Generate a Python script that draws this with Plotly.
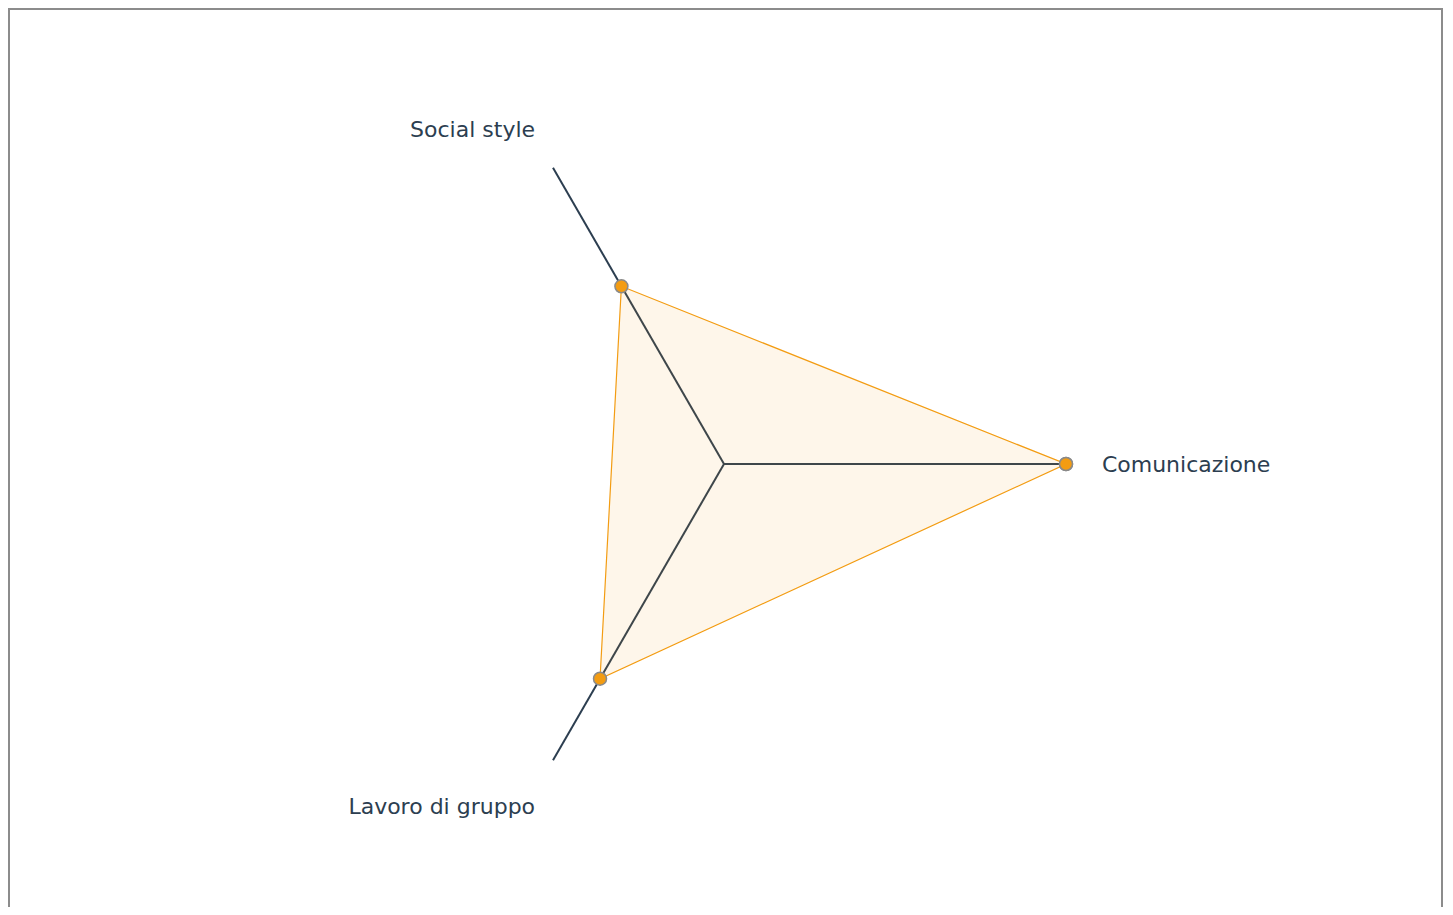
import plotly.graph_objects as go

# dati del radar
categorie = ["Comunicazione", "Social style", "Lavoro di gruppo"]
valori = [100, 60, 72.5]
scala_max = 100

# chiudo il poligono ripetendo il primo punto
theta = categorie + categorie[:1]
r = valori + valori[:1]

W, H = 1437, 899  # la pagina ha 8px di margine

trace = go.Scatterpolar(
    r=r,
    theta=theta,
    mode="lines+markers",
    fill="toself",
    fillcolor="rgba(243,156,18,0.09)",
    line=dict(color="#f39c12", width=1.2),
    marker=dict(size=13, color="#f39c12", line=dict(color="#8a8a8a", width=1.5)),
    showlegend=False,
)

fig = go.Figure(data=[trace])

fig.update_layout(
    width=W,
    height=H,
    margin=dict(l=0, r=0, t=0, b=0),
    paper_bgcolor="white",
    font=dict(family="DejaVu Sans", size=22, color="#2c3e50"),
    polar=dict(
        domain=dict(x=[374 / W, 1058 / W], y=[1 - 798 / H, 1 - 114 / H]),
        bgcolor="rgba(0,0,0,0)",
        angularaxis=dict(
            type="category",
            categoryarray=categorie,
            rotation=0,
            direction="counterclockwise",
            showline=False,
            showgrid=True,
            gridcolor="#2c3e50",
            gridwidth=2.2,
            ticks="outside",
            ticklen=31,
            tickcolor="rgba(0,0,0,0)",
            tickfont=dict(family="DejaVu Sans", size=22, color="#2c3e50"),
        ),
        radialaxis=dict(
            range=[0, scala_max],
            showgrid=False,
            showline=False,
            showticklabels=False,
            ticks="",
        ),
    ),
    shapes=[
        dict(
            type="rect",
            xref="paper",
            yref="paper",
            x0=1 / W,
            x1=1434 / W,
            y0=-0.05,
            y1=1 - 1 / H,
            line=dict(color="#8c8c8c", width=2),
            fillcolor="rgba(0,0,0,0)",
            layer="below",
        )
    ],
)

fig.write_html("out.html")
